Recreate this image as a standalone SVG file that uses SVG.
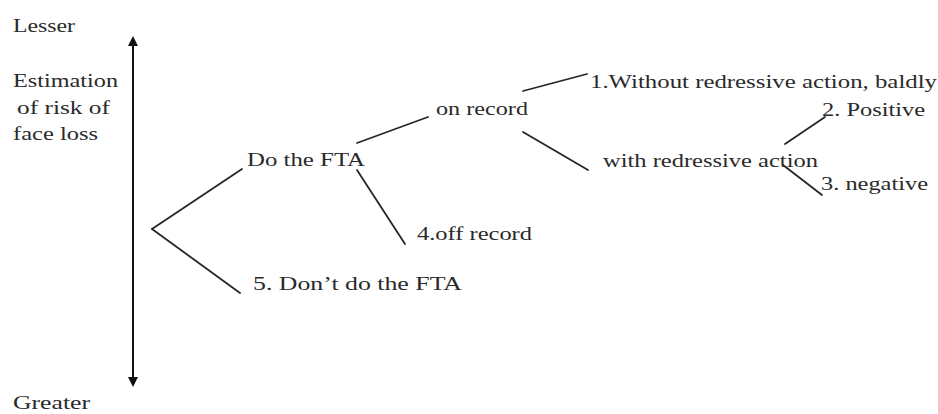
<svg xmlns="http://www.w3.org/2000/svg" width="938" height="414" viewBox="0 0 938 414">
<style>
text{font-family:"Liberation Serif","Times New Roman",serif;font-size:19px;fill:#2a2a2a}
.c{stroke:#262626;stroke-width:1.8;fill:none;stroke-linecap:round}
</style>
<defs>
<marker id="ah" viewBox="0 0 10 10" refX="0" refY="5" markerWidth="10" markerHeight="10" markerUnits="userSpaceOnUse" orient="auto-start-reverse">
<path d="M0,0 L10,5 L0,10 z" fill="#111"/>
</marker>
</defs>
<rect width="938" height="414" fill="#fff"/>
<g id="axis">
<line x1="133" y1="46" x2="133" y2="377" stroke="#111" stroke-width="2" marker-start="url(#ah)" marker-end="url(#ah)"/>
<text x="13" y="32" textLength="62" lengthAdjust="spacingAndGlyphs">Lesser</text>
<text x="13" y="87" textLength="105" lengthAdjust="spacingAndGlyphs">Estimation</text>
<text x="17" y="114" textLength="93" lengthAdjust="spacingAndGlyphs">of risk of</text>
<text x="13" y="140" textLength="85" lengthAdjust="spacingAndGlyphs">face loss</text>
<text x="13" y="409" textLength="77" lengthAdjust="spacingAndGlyphs">Greater</text>
</g>
<g id="connectors" class="c">
<line x1="152" y1="229" x2="242" y2="169"/>
<line x1="152" y1="229" x2="240" y2="293"/>
<line x1="357" y1="143" x2="428" y2="117"/>
<line x1="357" y1="170" x2="405" y2="244"/>
<line x1="523" y1="91" x2="587" y2="74"/>
<line x1="523" y1="132" x2="588" y2="170"/>
<line x1="785" y1="144" x2="825" y2="117"/>
<line x1="783" y1="165" x2="822" y2="195"/>
</g>
<g id="do-fta"><text x="247" y="166" textLength="118" lengthAdjust="spacingAndGlyphs">Do the FTA</text></g>
<g id="on-record"><text x="436" y="115" textLength="92" lengthAdjust="spacingAndGlyphs">on record</text></g>
<g id="baldly"><text x="590" y="88" textLength="347" lengthAdjust="spacingAndGlyphs">1.Without redressive action, baldly</text></g>
<g id="positive"><text x="822" y="116" textLength="103" lengthAdjust="spacingAndGlyphs">2. Positive</text></g>
<g id="with-redress"><text x="603" y="167" textLength="215" lengthAdjust="spacingAndGlyphs">with redressive action</text></g>
<g id="negative"><text x="821" y="190" textLength="107" lengthAdjust="spacingAndGlyphs">3. negative</text></g>
<g id="off-record"><text x="417" y="240" textLength="115" lengthAdjust="spacingAndGlyphs">4.off record</text></g>
<g id="dont-do"><text x="253" y="290" textLength="209" lengthAdjust="spacingAndGlyphs">5. Don’t do the FTA</text></g>
</svg>
